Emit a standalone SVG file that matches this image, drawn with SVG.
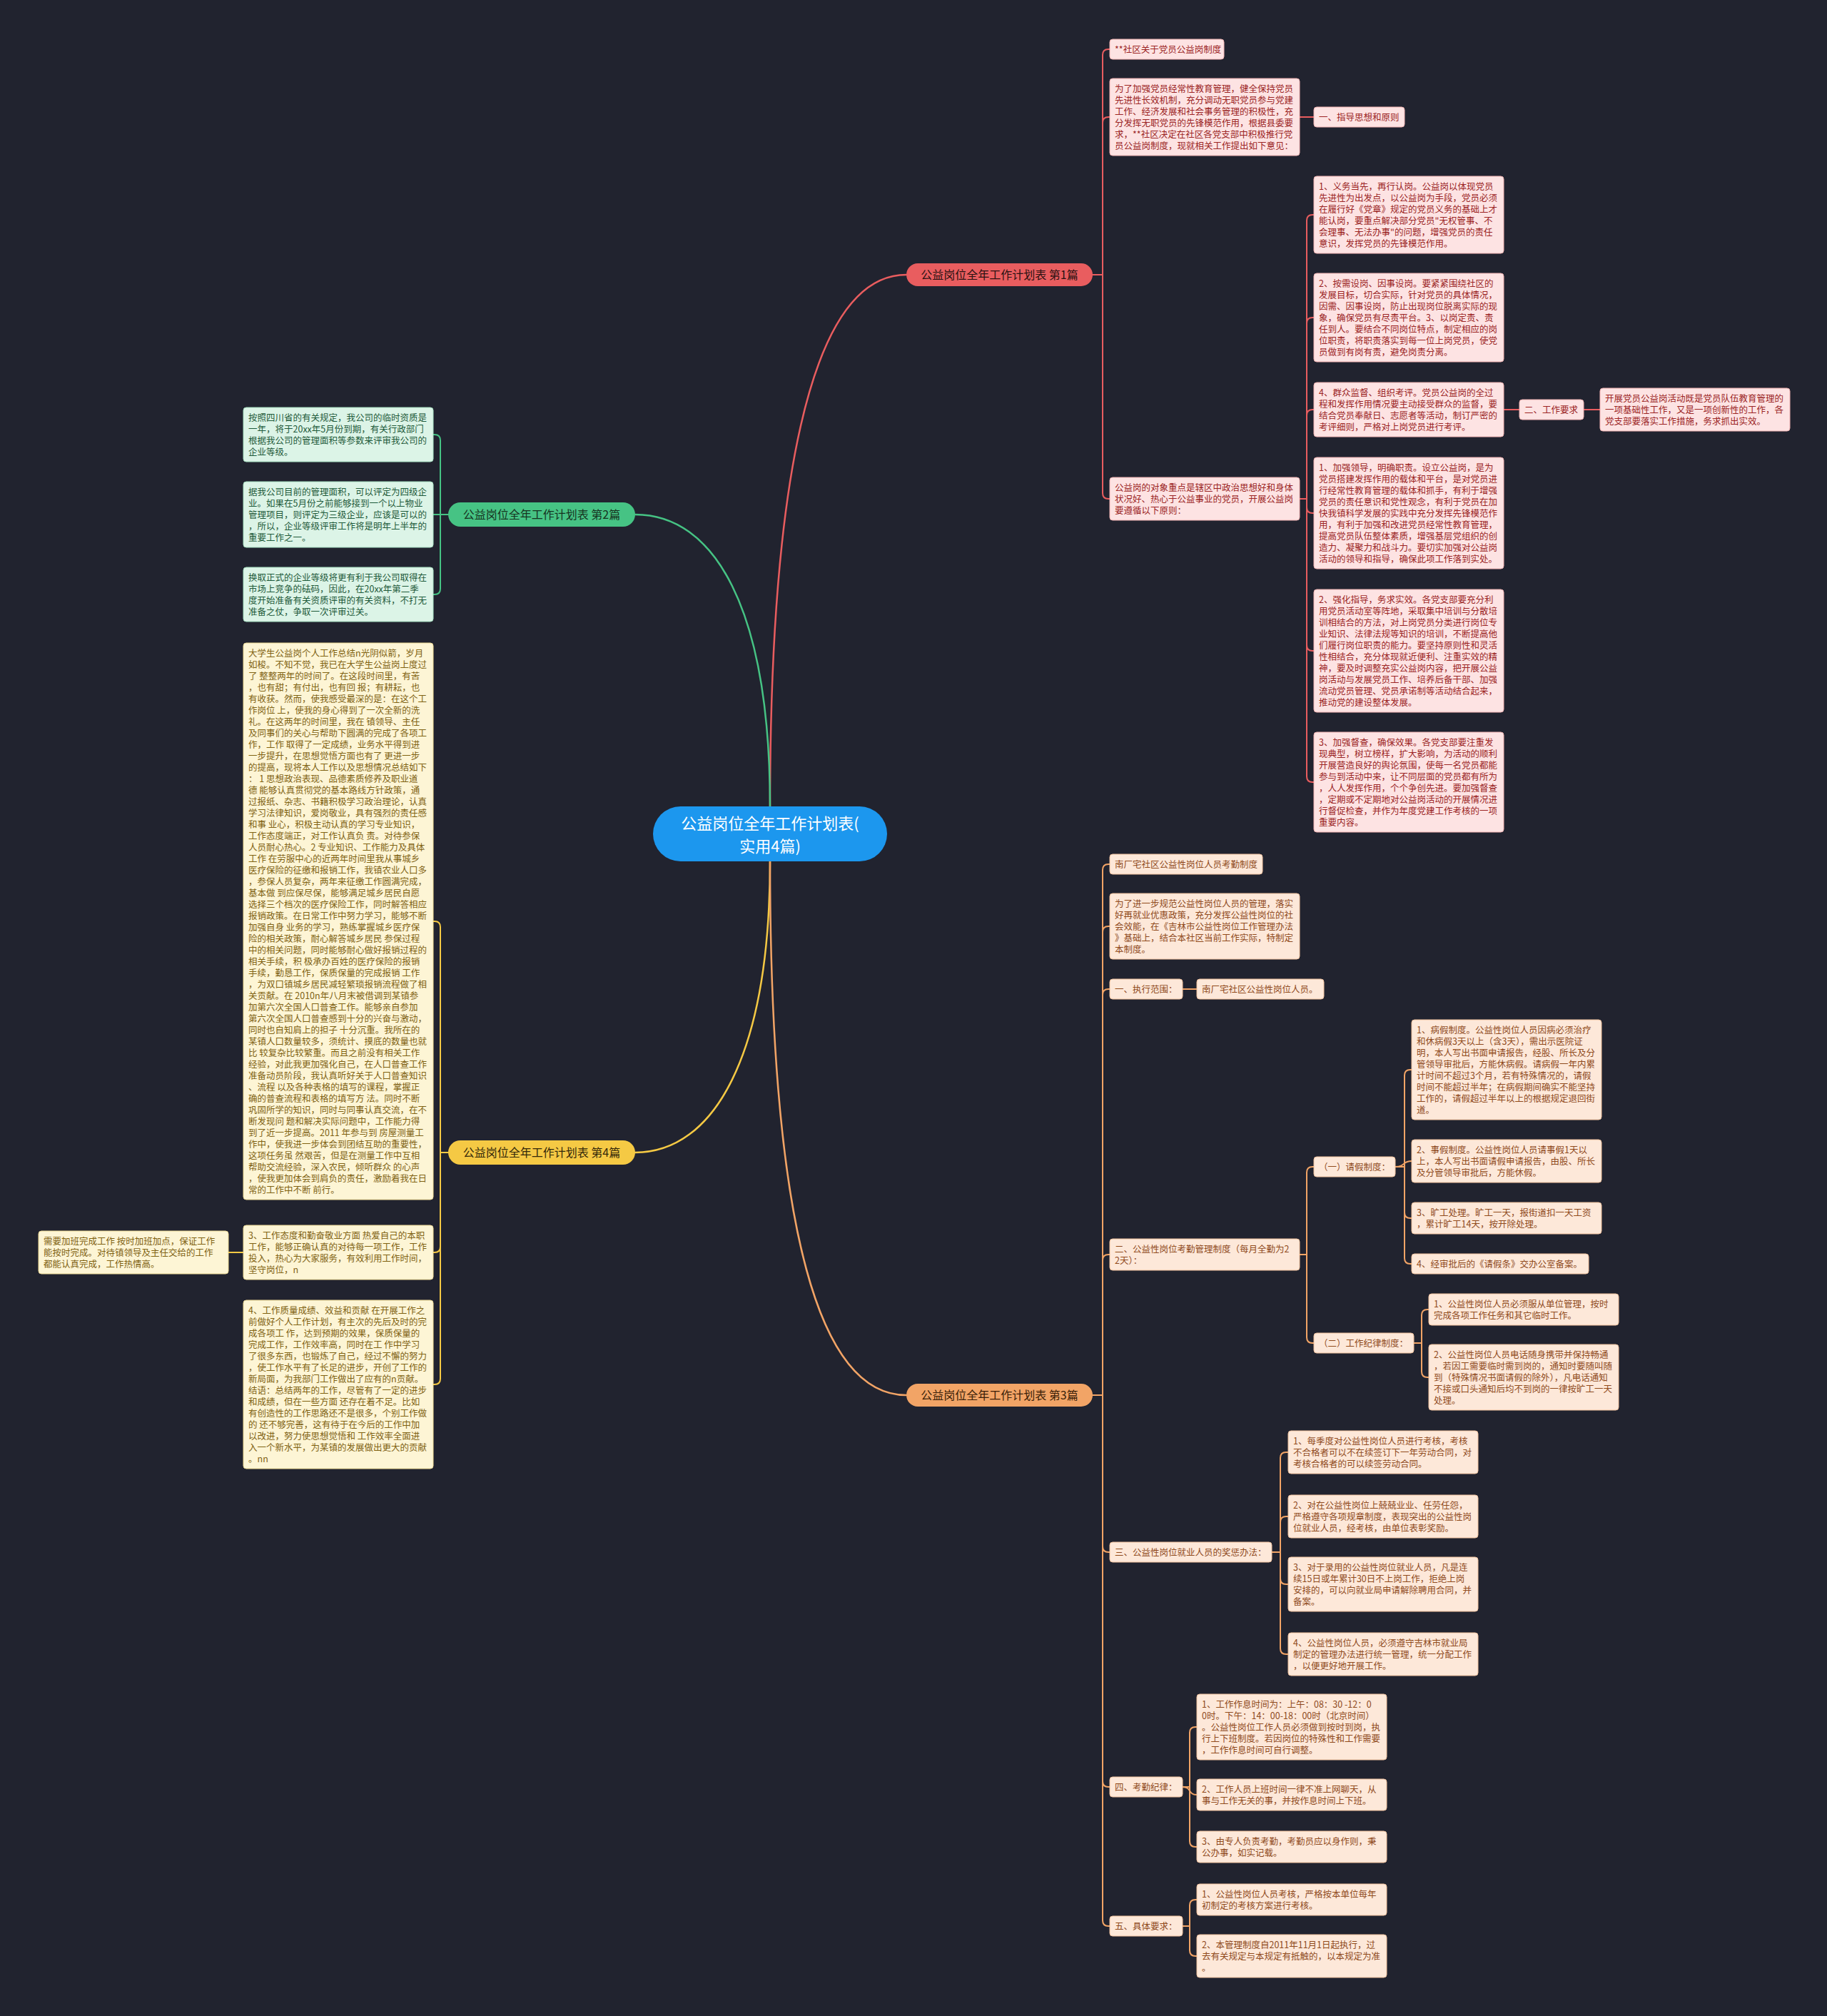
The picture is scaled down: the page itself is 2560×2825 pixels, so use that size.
<svg xmlns="http://www.w3.org/2000/svg" width="2560" height="2825" viewBox="0 0 2560 2825">
<style>
text{font-family:"Noto Sans CJK SC","Noto Sans",sans-serif;}
.lf text{font-size:12.5px}
.s1 rect{fill:#fde3e3;stroke:#f1b3b3;stroke-width:1}
.s1 text{fill:#9b2424}
.s2 rect{fill:#dcf4e7;stroke:#a6dfc1;stroke-width:1}
.s2 text{fill:#1e5a3a}
.s3 rect{fill:#fde8d9;stroke:#f0c19d;stroke-width:1}
.s3 text{fill:#8f4a1c}
.s4 rect{fill:#fdf5d5;stroke:#ecd893;stroke-width:1}
.s4 text{fill:#7f6212}
.pill text{font-size:16px;text-anchor:middle}
.k1{stroke:#e95d5f}
.k2{stroke:#46c384}
.k3{stroke:#f2a466}
.k4{stroke:#f5c944}
#connectors path{fill:none;stroke-width:2;stroke-linecap:round;stroke-linejoin:round}
#connectors .main path{stroke-width:2.5}
</style>
<rect x="0" y="0" width="2560" height="2825" fill="#21232f"/>

<g id="connectors">
  <g class="main">
    <path class="k1" d="M1079 1132C1079 700 1130 385 1270 385"/>
    <path class="k2" d="M1079 1132C1079 850 1000 721 890 721"/>
    <path class="k4" d="M1079 1205C1079 1480 1000 1615 890 1615"/>
    <path class="k3" d="M1079 1205C1079 1650 1130 1955 1270 1955"/>
  </g>
  <g class="k1">
    <path d="M1531 385H1545V77Q1545 69 1553 69H1555"/>
    <path d="M1531 385H1545V172Q1545 164 1553 164H1555"/>
    <path d="M1531 385H1545V691Q1545 699 1553 699H1555"/>
    <path d="M1821 164H1841"/>
    <path d="M1821 699H1831V309Q1831 301 1839 301H1841"/>
    <path d="M1821 699H1831V453Q1831 445 1839 445H1841"/>
    <path d="M1821 699H1831V582Q1831 574 1839 574H1841"/>
    <path d="M1821 699H1831V711Q1831 719 1839 719H1841"/>
    <path d="M1821 699H1831V904Q1831 912 1839 912H1841"/>
    <path d="M1821 699H1831V1088Q1831 1096 1839 1096H1841"/>
    <path d="M2107 574H2129"/>
    <path d="M2219 574H2242"/>
  </g>
  <g class="k2">
    <path d="M628 721H617V617Q617 609 609 609H607"/>
    <path d="M628 721H607"/>
    <path d="M628 721H617V825Q617 833 609 833H607"/>
  </g>
  <g class="k4">
    <path d="M628 1615H617V1299Q617 1291 609 1291H607"/>
    <path d="M628 1615H617V1747Q617 1755 609 1755H607"/>
    <path d="M628 1615H617V1932Q617 1940 609 1940H607"/>
    <path d="M341 1755H320"/>
  </g>
  <g class="k3">
    <path d="M1531 1955H1545V1219Q1545 1211 1553 1211H1555"/>
    <path d="M1531 1955H1545V1306Q1545 1298 1553 1298H1555"/>
    <path d="M1531 1955H1545V1394Q1545 1386 1553 1386H1555"/>
    <path d="M1531 1955H1545V1766Q1545 1758 1553 1758H1555"/>
    <path d="M1531 1955H1545V2167Q1545 2175 1553 2175H1555"/>
    <path d="M1531 1955H1545V2496Q1545 2504 1553 2504H1555"/>
    <path d="M1531 1955H1545V2691Q1545 2699 1553 2699H1555"/>
    <path d="M1657 1386H1677"/>
    <path d="M1821 1758H1831V1643Q1831 1635 1839 1635H1841"/>
    <path d="M1821 1758H1831V1874Q1831 1882 1839 1882H1841"/>
    <path d="M1955 1635H1968V1507Q1968 1499 1976 1499H1978"/>
    <path d="M1955 1635C1970 1635 1964 1627 1978 1627"/>
    <path d="M1955 1635H1968V1699Q1968 1707 1976 1707H1978"/>
    <path d="M1955 1635H1968V1763Q1968 1771 1976 1771H1978"/>
    <path d="M1981 1882H1992V1843Q1992 1835 2000 1835H2002"/>
    <path d="M1981 1882H1992V1922Q1992 1930 2000 1930H2002"/>
    <path d="M1782 2175H1794V2043Q1794 2035 1802 2035H1805"/>
    <path d="M1782 2175H1794V2133Q1794 2125 1802 2125H1805"/>
    <path d="M1782 2175H1794V2212Q1794 2220 1802 2220H1805"/>
    <path d="M1782 2175H1794V2310Q1794 2318 1802 2318H1805"/>
    <path d="M1657 2504H1667V2428Q1667 2420 1675 2420H1677"/>
    <path d="M1657 2504C1670 2504 1664 2515 1677 2515"/>
    <path d="M1657 2504H1667V2580Q1667 2588 1675 2588H1677"/>
    <path d="M1657 2699H1667V2670Q1667 2662 1675 2662H1677"/>
    <path d="M1657 2699H1667V2733Q1667 2741 1675 2741H1677"/>
  </g>
</g>

<g id="center">
  <rect x="915" y="1130" width="328" height="77" rx="38.5" fill="#1c97ee"/>
  <text x="1079" y="1162" font-size="22" fill="#ffffff" text-anchor="middle">公益岗位全年工作计划表(</text>
  <text x="1079" y="1194" font-size="22" fill="#ffffff" text-anchor="middle">实用4篇)</text>
</g>

<g id="b1" class="pill"><rect x="1270" y="369" width="261" height="32" rx="16" fill="#e95d5f"/><text x="1400.5" y="391" fill="#2a1212">公益岗位全年工作计划表 第1篇</text></g>
<g id="b2" class="pill"><rect x="628" y="704" width="262" height="34" rx="17" fill="#46c384"/><text x="759" y="727" fill="#16331f">公益岗位全年工作计划表 第2篇</text></g>
<g id="b4" class="pill"><rect x="628" y="1598" width="262" height="34" rx="17" fill="#f5c944"/><text x="759" y="1621" fill="#33280a">公益岗位全年工作计划表 第4篇</text></g>
<g id="b3" class="pill"><rect x="1270" y="1939" width="261" height="32" rx="16" fill="#f2a466"/><text x="1400.5" y="1961" fill="#3a1e08">公益岗位全年工作计划表 第3篇</text></g>

<g class="lf s1">
<g id="n1a"><rect x="1555" y="55" width="160" height="28" rx="4"/><text x="1562" y="73.5">**社区关于党员公益岗制度</text></g>
<g id="n1b"><rect x="1555" y="110" width="266" height="108" rx="4"/><text x="1562" y="128.5"><tspan x="1562">为了加强党员经常性教育管理，健全保持党员</tspan><tspan x="1562" dy="16">先进性长效机制，充分调动无职党员参与党建</tspan><tspan x="1562" dy="16">工作、经济发展和社会事务管理的积极性，充</tspan><tspan x="1562" dy="16">分发挥无职党员的先锋模范作用，根据县委要</tspan><tspan x="1562" dy="16">求，**社区决定在社区各党支部中积极推行党</tspan><tspan x="1562" dy="16">员公益岗制度，现就相关工作提出如下意见：</tspan></text></g>
<g id="n1c"><rect x="1841" y="150" width="127" height="28" rx="4"/><text x="1848" y="168.5">一、指导思想和原则</text></g>
<g id="n1d"><rect x="1555" y="669" width="266" height="60" rx="4"/><text x="1562" y="687.5"><tspan x="1562">公益岗的对象重点是辖区中政治思想好和身体</tspan><tspan x="1562" dy="16">状况好、热心于公益事业的党员，开展公益岗</tspan><tspan x="1562" dy="16">要遵循以下原则：</tspan></text></g>
<g id="n1e"><rect x="1841" y="247" width="266" height="108" rx="4"/><text x="1848" y="265.5"><tspan x="1848">1、义务当先，再行认岗。公益岗以体现党员</tspan><tspan x="1848" dy="16">先进性为出发点，以公益岗为手段，党员必须</tspan><tspan x="1848" dy="16">在履行好《党章》规定的党员义务的基础上才</tspan><tspan x="1848" dy="16">能认岗，要重点解决部分党员"无权管事、不</tspan><tspan x="1848" dy="16">会理事、无法办事"的问题，增强党员的责任</tspan><tspan x="1848" dy="16">意识，发挥党员的先锋模范作用。</tspan></text></g>
<g id="n1f"><rect x="1841" y="383" width="266" height="124" rx="4"/><text x="1848" y="401.5"><tspan x="1848">2、按需设岗、因事设岗。要紧紧围绕社区的</tspan><tspan x="1848" dy="16">发展目标，切合实际，针对党员的具体情况，</tspan><tspan x="1848" dy="16">因需、因事设岗，防止出现岗位脱离实际的现</tspan><tspan x="1848" dy="16">象，确保党员有尽责平台。3、以岗定责、责</tspan><tspan x="1848" dy="16">任到人。要结合不同岗位特点，制定相应的岗</tspan><tspan x="1848" dy="16">位职责，将职责落实到每一位上岗党员，使党</tspan><tspan x="1848" dy="16">员做到有岗有责，避免岗责分离。</tspan></text></g>
<g id="n1g"><rect x="1841" y="536" width="266" height="76" rx="4"/><text x="1848" y="554.5"><tspan x="1848">4、群众监督、组织考评。党员公益岗的全过</tspan><tspan x="1848" dy="16">程和发挥作用情况要主动接受群众的监督，要</tspan><tspan x="1848" dy="16">结合党员奉献日、志愿者等活动，制订严密的</tspan><tspan x="1848" dy="16">考评细则，严格对上岗党员进行考评。</tspan></text></g>
<g id="n1h"><rect x="2129" y="560" width="90" height="28" rx="4"/><text x="2136" y="578.5">二、工作要求</text></g>
<g id="n1i"><rect x="2242" y="544" width="266" height="60" rx="4"/><text x="2249" y="562.5"><tspan x="2249">开展党员公益岗活动既是党员队伍教育管理的</tspan><tspan x="2249" dy="16">一项基础性工作，又是一项创新性的工作，各</tspan><tspan x="2249" dy="16">党支部要落实工作措施，务求抓出实效。</tspan></text></g>
<g id="n1j"><rect x="1841" y="641" width="266" height="156" rx="4"/><text x="1848" y="659.5"><tspan x="1848">1、加强领导，明确职责。设立公益岗，是为</tspan><tspan x="1848" dy="16">党员搭建发挥作用的载体和平台，是对党员进</tspan><tspan x="1848" dy="16">行经常性教育管理的载体和抓手，有利于增强</tspan><tspan x="1848" dy="16">党员的责任意识和党性观念，有利于党员在加</tspan><tspan x="1848" dy="16">快我镇科学发展的实践中充分发挥先锋模范作</tspan><tspan x="1848" dy="16">用，有利于加强和改进党员经常性教育管理，</tspan><tspan x="1848" dy="16">提高党员队伍整体素质，增强基层党组织的创</tspan><tspan x="1848" dy="16">造力、凝聚力和战斗力。要切实加强对公益岗</tspan><tspan x="1848" dy="16">活动的领导和指导，确保此项工作落到实处。</tspan></text></g>
<g id="n1k"><rect x="1841" y="826" width="266" height="172" rx="4"/><text x="1848" y="844.5"><tspan x="1848">2、强化指导，务求实效。各党支部要充分利</tspan><tspan x="1848" dy="16">用党员活动室等阵地，采取集中培训与分散培</tspan><tspan x="1848" dy="16">训相结合的方法，对上岗党员分类进行岗位专</tspan><tspan x="1848" dy="16">业知识、法律法规等知识的培训，不断提高他</tspan><tspan x="1848" dy="16">们履行岗位职责的能力。要坚持原则性和灵活</tspan><tspan x="1848" dy="16">性相结合，充分体现就近便利、注重实效的精</tspan><tspan x="1848" dy="16">神，要及时调整充实公益岗内容，把开展公益</tspan><tspan x="1848" dy="16">岗活动与发展党员工作、培养后备干部、加强</tspan><tspan x="1848" dy="16">流动党员管理、党员承诺制等活动结合起来，</tspan><tspan x="1848" dy="16">推动党的建设整体发展。</tspan></text></g>
<g id="n1l"><rect x="1841" y="1026" width="266" height="140" rx="4"/><text x="1848" y="1044.5"><tspan x="1848">3、加强督查，确保效果。各党支部要注重发</tspan><tspan x="1848" dy="16">现典型，树立榜样，扩大影响，为活动的顺利</tspan><tspan x="1848" dy="16">开展营造良好的舆论氛围，使每一名党员都能</tspan><tspan x="1848" dy="16">参与到活动中来，让不同层面的党员都有所为</tspan><tspan x="1848" dy="16">，人人发挥作用，个个争创先进。要加强督查</tspan><tspan x="1848" dy="16">，定期或不定期地对公益岗活动的开展情况进</tspan><tspan x="1848" dy="16">行督促检查，并作为年度党建工作考核的一项</tspan><tspan x="1848" dy="16">重要内容。</tspan></text></g>
</g>

<g class="lf s2">
<g id="n2a"><rect x="341" y="571" width="266" height="76" rx="4"/><text x="348" y="589.5"><tspan x="348">按照四川省的有关规定，我公司的临时资质是</tspan><tspan x="348" dy="16">一年，将于20xx年5月份到期，有关行政部门</tspan><tspan x="348" dy="16">根据我公司的管理面积等参数来评审我公司的</tspan><tspan x="348" dy="16">企业等级。</tspan></text></g>
<g id="n2b"><rect x="341" y="675" width="266" height="92" rx="4"/><text x="348" y="693.5"><tspan x="348">据我公司目前的管理面积，可以评定为四级企</tspan><tspan x="348" dy="16">业。如果在5月份之前能够接到一个以上物业</tspan><tspan x="348" dy="16">管理项目，则评定为三级企业，应该是可以的</tspan><tspan x="348" dy="16">，所以，企业等级评审工作将是明年上半年的</tspan><tspan x="348" dy="16">重要工作之一。</tspan></text></g>
<g id="n2c"><rect x="341" y="795" width="266" height="76" rx="4"/><text x="348" y="813.5"><tspan x="348">换取正式的企业等级将更有利于我公司取得在</tspan><tspan x="348" dy="16">市场上竞争的砝码，因此，在20xx年第二季</tspan><tspan x="348" dy="16">度开始准备有关资质评审的有关资料，不打无</tspan><tspan x="348" dy="16">准备之仗，争取一次评审过关。</tspan></text></g>
</g>

<g class="lf s4">
<g id="n4a"><rect x="341" y="901" width="266" height="780" rx="4"/><text x="348" y="919.5"><tspan x="348">大学生公益岗个人工作总结n光阴似箭，岁月</tspan><tspan x="348" dy="16">如梭。不知不觉，我已在大学生公益岗上度过</tspan><tspan x="348" dy="16">了 整整两年的时间了。在这段时间里，有苦</tspan><tspan x="348" dy="16">，也有甜；有付出，也有回 报；有耕耘，也</tspan><tspan x="348" dy="16">有收获。然而，使我感受最深的是：在这个工</tspan><tspan x="348" dy="16">作岗位 上，使我的身心得到了一次全新的洗</tspan><tspan x="348" dy="16">礼。在这两年的时间里，我在 镇领导、主任</tspan><tspan x="348" dy="16">及同事们的关心与帮助下圆满的完成了各项工</tspan><tspan x="348" dy="16">作，工作 取得了一定成绩，业务水平得到进</tspan><tspan x="348" dy="16">一步提升，在思想觉悟方面也有了 更进一步</tspan><tspan x="348" dy="16">的提高，现将本人工作以及思想情况总结如下</tspan><tspan x="348" dy="16">： 1 思想政治表现、品德素质修养及职业道</tspan><tspan x="348" dy="16">德 能够认真贯彻党的基本路线方针政策，通</tspan><tspan x="348" dy="16">过报纸、杂志、书籍积极学习政治理论，认真</tspan><tspan x="348" dy="16">学习法律知识，爱岗敬业，具有强烈的责任感</tspan><tspan x="348" dy="16">和事 业心，积极主动认真的学习专业知识，</tspan><tspan x="348" dy="16">工作态度端正，对工作认真负 责。对待参保</tspan><tspan x="348" dy="16">人员耐心热心。2 专业知识、工作能力及具体</tspan><tspan x="348" dy="16">工作 在劳服中心的近两年时间里我从事城乡</tspan><tspan x="348" dy="16">医疗保险的征缴和报销工作，我镇农业人口多</tspan><tspan x="348" dy="16">，参保人员复杂，两年来征缴工作圆满完成，</tspan><tspan x="348" dy="16">基本做 到应保尽保，能够满足城乡居民自愿</tspan><tspan x="348" dy="16">选择三个档次的医疗保险工作，同时解答相应</tspan><tspan x="348" dy="16">报销政策。在日常工作中努力学习，能够不断</tspan><tspan x="348" dy="16">加强自身 业务的学习，熟练掌握城乡医疗保</tspan><tspan x="348" dy="16">险的相关政策，耐心解答城乡居民 参保过程</tspan><tspan x="348" dy="16">中的相关问题，同时能够耐心做好报销过程的</tspan><tspan x="348" dy="16">相关手续，积 极承办百姓的医疗保险的报销</tspan><tspan x="348" dy="16">手续，勤恳工作，保质保量的完成报销 工作</tspan><tspan x="348" dy="16">，为双口镇城乡居民减轻繁琐报销流程做了相</tspan><tspan x="348" dy="16">关贡献。在 2010n年八月末被借调到某镇参</tspan><tspan x="348" dy="16">加第六次全国人口普查工作。能够亲自参加</tspan><tspan x="348" dy="16">第六次全国人口普查感到十分的兴奋与激动，</tspan><tspan x="348" dy="16">同时也自知肩上的担子 十分沉重。我所在的</tspan><tspan x="348" dy="16">某镇人口数量较多，须统计、摸底的数量也就</tspan><tspan x="348" dy="16">比 较复杂比较繁重。而且之前没有相关工作</tspan><tspan x="348" dy="16">经验，对此我更加强化自己，在人口普查工作</tspan><tspan x="348" dy="16">准备动员阶段，我认真听好关于人口普查知识</tspan><tspan x="348" dy="16">、流程 以及各种表格的填写的课程，掌握正</tspan><tspan x="348" dy="16">确的普查流程和表格的填写方 法。同时不断</tspan><tspan x="348" dy="16">巩固所学的知识，同时与同事认真交流，在不</tspan><tspan x="348" dy="16">断发现问 题和解决实际问题中，工作能力得</tspan><tspan x="348" dy="16">到了近一步提高。2011 年参与到 房屋测量工</tspan><tspan x="348" dy="16">作中，使我进一步体会到团结互助的重要性，</tspan><tspan x="348" dy="16">这项任务虽 然艰苦，但是在测量工作中互相</tspan><tspan x="348" dy="16">帮助交流经验，深入农民，倾听群众 的心声</tspan><tspan x="348" dy="16">，使我更加体会到肩负的责任，激励着我在日</tspan><tspan x="348" dy="16">常的工作中不断 前行。</tspan></text></g>
<g id="n4b"><rect x="341" y="1717" width="266" height="76" rx="4"/><text x="348" y="1735.5"><tspan x="348">3、工作态度和勤奋敬业方面 热爱自己的本职</tspan><tspan x="348" dy="16">工作，能够正确认真的对待每一项工作，工作</tspan><tspan x="348" dy="16">投入，热心为大家服务，有效利用工作时间，</tspan><tspan x="348" dy="16">坚守岗位，n</tspan></text></g>
<g id="n4c"><rect x="54" y="1725" width="266" height="60" rx="4"/><text x="61" y="1743.5"><tspan x="61">需要加班完成工作 按时加班加点，保证工作</tspan><tspan x="61" dy="16">能按时完成。对待镇领导及主任交给的工作</tspan><tspan x="61" dy="16">都能认真完成，工作热情高。</tspan></text></g>
<g id="n4d"><rect x="341" y="1822" width="266" height="236" rx="4"/><text x="348" y="1840.5"><tspan x="348">4、工作质量成绩、效益和贡献 在开展工作之</tspan><tspan x="348" dy="16">前做好个人工作计划，有主次的先后及时的完</tspan><tspan x="348" dy="16">成各项工 作，达到预期的效果，保质保量的</tspan><tspan x="348" dy="16">完成工作，工作效率高，同时在工 作中学习</tspan><tspan x="348" dy="16">了很多东西，也锻炼了自己，经过不懈的努力</tspan><tspan x="348" dy="16">，使工作水平有了长足的进步，开创了工作的</tspan><tspan x="348" dy="16">新局面，为我部门工作做出了应有的n贡献。</tspan><tspan x="348" dy="16">结语：总结两年的工作，尽管有了一定的进步</tspan><tspan x="348" dy="16">和成绩，但在一些方面 还存在着不足。比如</tspan><tspan x="348" dy="16">有创造性的工作思路还不是很多，个别工作做</tspan><tspan x="348" dy="16">的 还不够完善，这有待于在今后的工作中加</tspan><tspan x="348" dy="16">以改进，努力使思想觉悟和 工作效率全面进</tspan><tspan x="348" dy="16">入一个新水平，为某镇的发展做出更大的贡献</tspan><tspan x="348" dy="16">。nn</tspan></text></g>
</g>

<g class="lf s3">
<g id="n3a"><rect x="1555" y="1197" width="214" height="28" rx="4"/><text x="1562" y="1215.5">南厂宅社区公益性岗位人员考勤制度</text></g>
<g id="n3b"><rect x="1555" y="1252" width="266" height="92" rx="4"/><text x="1562" y="1270.5"><tspan x="1562">为了进一步规范公益性岗位人员的管理，落实</tspan><tspan x="1562" dy="16">好再就业优惠政策，充分发挥公益性岗位的社</tspan><tspan x="1562" dy="16">会效能，在《吉林市公益性岗位工作管理办法</tspan><tspan x="1562" dy="16">》基础上，结合本社区当前工作实际，特制定</tspan><tspan x="1562" dy="16">本制度。</tspan></text></g>
<g id="n3c"><rect x="1555" y="1372" width="102" height="28" rx="4"/><text x="1562" y="1390.5">一、执行范围：</text></g>
<g id="n3d"><rect x="1677" y="1372" width="178" height="28" rx="4"/><text x="1684" y="1390.5">南厂宅社区公益性岗位人员。</text></g>
<g id="n3e"><rect x="1555" y="1736" width="266" height="44" rx="4"/><text x="1562" y="1754.5"><tspan x="1562">二、公益性岗位考勤管理制度（每月全勤为2</tspan><tspan x="1562" dy="16">2天）：</tspan></text></g>
<g id="n3f"><rect x="1841" y="1621" width="114" height="28" rx="4"/><text x="1848" y="1639.5">（一）请假制度：</text></g>
<g id="n3g"><rect x="1978" y="1429" width="266" height="140" rx="4"/><text x="1985" y="1447.5"><tspan x="1985">1、病假制度。公益性岗位人员因病必须治疗</tspan><tspan x="1985" dy="16">和休病假3天以上（含3天），需出示医院证</tspan><tspan x="1985" dy="16">明，本人写出书面申请报告，经股、所长及分</tspan><tspan x="1985" dy="16">管领导审批后，方能休病假。请病假一年内累</tspan><tspan x="1985" dy="16">计时间不超过3个月，若有特殊情况的，请假</tspan><tspan x="1985" dy="16">时间不能超过半年；在病假期间确实不能坚持</tspan><tspan x="1985" dy="16">工作的，请假超过半年以上的根据规定退回街</tspan><tspan x="1985" dy="16">道。</tspan></text></g>
<g id="n3h"><rect x="1978" y="1597" width="266" height="60" rx="4"/><text x="1985" y="1615.5"><tspan x="1985">2、事假制度。公益性岗位人员请事假1天以</tspan><tspan x="1985" dy="16">上，本人写出书面请假申请报告，由股、所长</tspan><tspan x="1985" dy="16">及分管领导审批后，方能休假。</tspan></text></g>
<g id="n3i"><rect x="1978" y="1685" width="266" height="44" rx="4"/><text x="1985" y="1703.5"><tspan x="1985">3、旷工处理。旷工一天，报街道扣一天工资</tspan><tspan x="1985" dy="16">，累计旷工14天，按开除处理。</tspan></text></g>
<g id="n3j"><rect x="1978" y="1757" width="248" height="28" rx="4"/><text x="1985" y="1775.5">4、经审批后的《请假条》交办公室备案。</text></g>
<g id="n3k"><rect x="1841" y="1868" width="140" height="28" rx="4"/><text x="1848" y="1886.5">（二）工作纪律制度：</text></g>
<g id="n3l"><rect x="2002" y="1813" width="266" height="44" rx="4"/><text x="2009" y="1831.5"><tspan x="2009">1、公益性岗位人员必须服从单位管理，按时</tspan><tspan x="2009" dy="16">完成各项工作任务和其它临时工作。</tspan></text></g>
<g id="n3m"><rect x="2002" y="1884" width="266" height="92" rx="4"/><text x="2009" y="1902.5"><tspan x="2009">2、公益性岗位人员电话随身携带并保持畅通</tspan><tspan x="2009" dy="16">，若因工需要临时需到岗的，通知时要随叫随</tspan><tspan x="2009" dy="16">到（特殊情况书面请假的除外），凡电话通知</tspan><tspan x="2009" dy="16">不接或口头通知后均不到岗的一律按旷工一天</tspan><tspan x="2009" dy="16">处理。</tspan></text></g>
<g id="n3n"><rect x="1555" y="2161" width="227" height="28" rx="4"/><text x="1562" y="2179.5">三、公益性岗位就业人员的奖惩办法：</text></g>
<g id="n3o"><rect x="1805" y="2005" width="266" height="60" rx="4"/><text x="1812" y="2023.5"><tspan x="1812">1、每季度对公益性岗位人员进行考核，考核</tspan><tspan x="1812" dy="16">不合格者可以不在续签订下一年劳动合同，对</tspan><tspan x="1812" dy="16">考核合格者的可以续签劳动合同。</tspan></text></g>
<g id="n3p"><rect x="1805" y="2095" width="266" height="60" rx="4"/><text x="1812" y="2113.5"><tspan x="1812">2、对在公益性岗位上兢兢业业、任劳任怨，</tspan><tspan x="1812" dy="16">严格遵守各项规章制度，表现突出的公益性岗</tspan><tspan x="1812" dy="16">位就业人员，经考核，由单位表彰奖励。</tspan></text></g>
<g id="n3q"><rect x="1805" y="2182" width="266" height="76" rx="4"/><text x="1812" y="2200.5"><tspan x="1812">3、对于录用的公益性岗位就业人员，凡是连</tspan><tspan x="1812" dy="16">续15日或年累计30日不上岗工作，拒绝上岗</tspan><tspan x="1812" dy="16">安排的，可以向就业局申请解除聘用合同，并</tspan><tspan x="1812" dy="16">备案。</tspan></text></g>
<g id="n3r"><rect x="1805" y="2288" width="266" height="60" rx="4"/><text x="1812" y="2306.5"><tspan x="1812">4、公益性岗位人员，必须遵守吉林市就业局</tspan><tspan x="1812" dy="16">制定的管理办法进行统一管理，统一分配工作</tspan><tspan x="1812" dy="16">，以便更好地开展工作。</tspan></text></g>
<g id="n3s"><rect x="1555" y="2490" width="102" height="28" rx="4"/><text x="1562" y="2508.5">四、考勤纪律：</text></g>
<g id="n3t"><rect x="1677" y="2374" width="266" height="92" rx="4"/><text x="1684" y="2392.5"><tspan x="1684">1、工作作息时间为：上午：08：30 -12：0</tspan><tspan x="1684" dy="16">0时。下午：14：00-18：00时（北京时间）</tspan><tspan x="1684" dy="16">。公益性岗位工作人员必须做到按时到岗，执</tspan><tspan x="1684" dy="16">行上下班制度。若因岗位的特殊性和工作需要</tspan><tspan x="1684" dy="16">，工作作息时间可自行调整。</tspan></text></g>
<g id="n3u"><rect x="1677" y="2493" width="266" height="44" rx="4"/><text x="1684" y="2511.5"><tspan x="1684">2、工作人员上班时间一律不准上网聊天，从</tspan><tspan x="1684" dy="16">事与工作无关的事，并按作息时间上下班。</tspan></text></g>
<g id="n3v"><rect x="1677" y="2566" width="266" height="44" rx="4"/><text x="1684" y="2584.5"><tspan x="1684">3、由专人负责考勤，考勤员应以身作则，秉</tspan><tspan x="1684" dy="16">公办事，如实记载。</tspan></text></g>
<g id="n3w"><rect x="1555" y="2685" width="102" height="28" rx="4"/><text x="1562" y="2703.5">五、具体要求：</text></g>
<g id="n3x"><rect x="1677" y="2640" width="266" height="44" rx="4"/><text x="1684" y="2658.5"><tspan x="1684">1、公益性岗位人员考核，严格按本单位每年</tspan><tspan x="1684" dy="16">初制定的考核方案进行考核。</tspan></text></g>
<g id="n3y"><rect x="1677" y="2711" width="266" height="60" rx="4"/><text x="1684" y="2729.5"><tspan x="1684">2、本管理制度自2011年11月1日起执行，过</tspan><tspan x="1684" dy="16">去有关规定与本规定有抵触的，以本规定为准</tspan><tspan x="1684" dy="16">。</tspan></text></g>
</g>
</svg>
